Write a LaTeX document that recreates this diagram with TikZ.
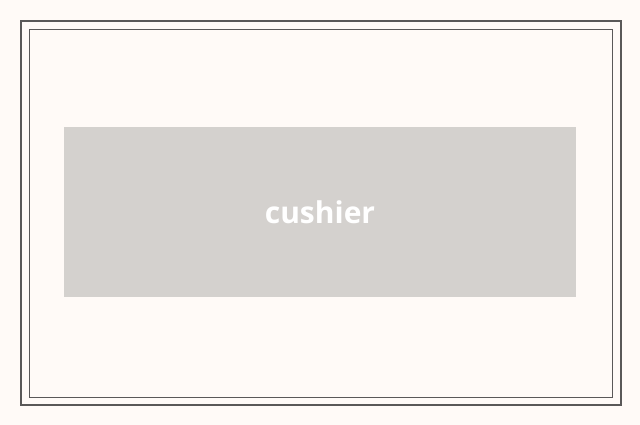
\documentclass[tikz,border=0pt]{standalone}
\usepackage{fontspec}
\setmainfont{Open Sans}
\definecolor{bg}{HTML}{FFFAF7}
\definecolor{frame}{HTML}{5A5858}
\definecolor{boxc}{HTML}{D4D1CE}
\begin{document}
\begin{tikzpicture}[x=1pt,y=-1pt]
\fill[bg] (0,0) rectangle (640,425);
\useasboundingbox (0,0) rectangle (640,425);
\draw[frame,line width=1.6pt] (21,21) rectangle (621,405);
\draw[frame,line width=0.8pt] (29,29) rectangle (612,397);
\node[fill=boxc,minimum width=512pt,minimum height=170pt,inner sep=0pt] (box) at (320,212) {};
\node[text=white,font=\bfseries\fontsize{30}{36}\selectfont] (lbl) at (box.center) {cushier};
\end{tikzpicture}
\end{document}
